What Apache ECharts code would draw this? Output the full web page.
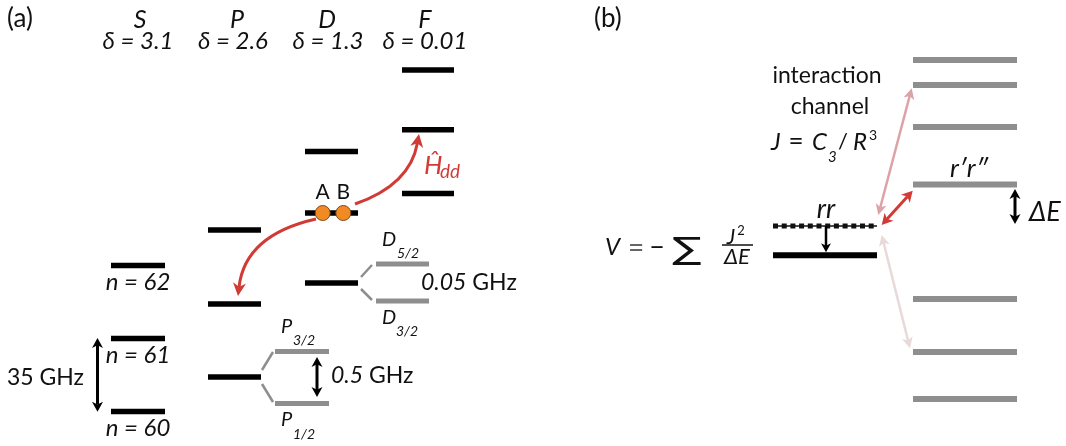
<!DOCTYPE html>
<html><head><meta charset="utf-8">
<script src="https://cdn.jsdelivr.net/npm/echarts@6/dist/echarts.min.js"></script>
<style>html,body{margin:0;padding:0;background:#fff}#c{width:1066px;height:446px}</style>
</head><body><div id="c"></div>
<script>
// ================= DATA (energies on a hidden vertical energy axis, 0..446) =================
const seriesNames    = ['S', 'P', 'D', 'F'];
const quantumDefects = ['3.1', '2.6', '1.3', '0.01'];
const sLevels = [34.5, 107.5, 180.5];          // n = 60, 61, 62
const sLevelLabels = ['n = 60', 'n = 61', 'n = 62'];
const pLevels = [69, 142, 216];
const dLevels = [163, 233, 294.5];
const fLevels = [252.5, 316.3, 376];
const pFine = [42.5, 94.5];                      // P1/2, P3/2
const pFineLabels = ['1/2', '3/2'];
const dFine = [145, 182];                        // D3/2, D5/2
const dFineLabels = ['3/2', '5/2'];
const splittings = ['35', '0.5', '0.05'];        // GHz
const atoms = ['A', 'B'];
const pairLevels = [190.7, 220];                 // rr (bare), rr (shifted, dashed)
const ladderLevels = [47, 94, 147, 261.5, 319, 361, 386];  // r'r'' pair states

// ================= LAYOUT / STYLE =================
const FONT = 'Lato, "Open Sans", sans-serif';
const INK = '#111111', GRAY = '#8e8e8e', RED = '#d13b36';
const colX = { S: [111, 165], P: [208, 261], D: [305, 358], F: [402, 454] };
const pFineX = [275, 329], dFineX = [376, 429];
const pairX = [773, 877], ladderX = [913, 1017];

const segs = (levels, xr) => levels.map(e => [xr[0], e, xr[1], e]);

function segSeries(data, style, z) {
  return {
    type: 'custom', coordinateSystem: 'cartesian2d', silent: true, animation: false, z: z,
    data: data, encode: { x: [0, 2], y: [1, 3] },
    renderItem(params, api) {
      const a = api.coord([api.value(0), api.value(1)]);
      const b = api.coord([api.value(2), api.value(3)]);
      return { type: 'line', shape: { x1: a[0], y1: a[1], x2: b[0], y2: b[1] },
               style: Object.assign({ fill: null, lineCap: 'butt' }, style) };
    }
  };
}

function head(tip, dir, L, W, color) {
  const len = Math.hypot(dir[0], dir[1]);
  const u = [dir[0] / len, dir[1] / len], n = [-u[1], u[0]];
  return { type: 'polygon', shape: { points: [
    tip,
    [tip[0] - L * u[0] + W * n[0], tip[1] - L * u[1] + W * n[1]],
    [tip[0] - 0.72 * L * u[0], tip[1] - 0.72 * L * u[1]],
    [tip[0] - L * u[0] - W * n[0], tip[1] - L * u[1] - W * n[1]]
  ] }, style: { fill: color, stroke: null } };
}

// arrows: straight (from,to) or curved (from,ctrl,to); heads at 'end' or 'both'
const arrows = [
  { p: [[colX.S[0] - 13.5, sLevels[1] + 0.5], [colX.S[0] - 13.5, sLevels[0] - 0.2]], heads: 'both', color: '#000', w: 3, L: 10, W: 5.5 },
  { p: [[317, pFine[1] - 5.5], [317, pFine[0] + 6.5]], heads: 'both', color: '#000', w: 3, L: 10, W: 5.5 },
  { p: [[355, 242], [410, 261], [419, 312]], heads: 'end', color: RED, w: 3, L: 13, W: 6.5 },
  { p: [[316, 227], [245, 211], [238, 150]], heads: 'end', color: RED, w: 3, L: 13, W: 6.5 },
  { p: [[878.3, 231], [911.7, 357.7]], heads: 'both', color: '#dca2a7', w: 2.5, L: 11, W: 5.5 },
  { p: [[881.7, 221], [912.7, 255.3]], heads: 'both', color: RED, w: 3, L: 11, W: 6 },
  { p: [[881.7, 211], [910, 97.7]], heads: 'both', color: '#e8d9da', w: 2.5, L: 11, W: 5.5 },
  { p: [[826, pairLevels[1]], [826, pairLevels[0] + 3]], heads: 'end', color: '#000', w: 2.5, L: 9, W: 5 },
  { p: [[1015, ladderLevels[3] - 4.5], [1015, 222]], heads: 'both', color: '#000', w: 3, L: 10, W: 5.5 }
];

function arrowSeries(z) {
  return {
    type: 'custom', coordinateSystem: 'cartesian2d', silent: true, animation: false, z: z,
    data: arrows.map(a => a.p[0]),
    renderItem(params, api) {
      const a = arrows[params.dataIndex];
      const P = a.p.map(q => api.coord(q));
      const children = [];
      const start = P[0], end = P[P.length - 1];
      const dEnd = P.length === 3 ? [end[0] - P[1][0], end[1] - P[1][1]] : [end[0] - start[0], end[1] - start[1]];
      const dStart = P.length === 3 ? [start[0] - P[1][0], start[1] - P[1][1]] : [start[0] - end[0], start[1] - end[1]];
      const shrink = (pt, d, k) => { const l = Math.hypot(d[0], d[1]); return [pt[0] - k * d[0] / l, pt[1] - k * d[1] / l]; };
      const e2 = shrink(end, dEnd, a.L * 0.7);
      const s2 = a.heads === 'both' ? shrink(start, dStart, a.L * 0.7) : start;
      if (P.length === 3) {
        children.push({ type: 'bezierCurve', shape: { x1: s2[0], y1: s2[1], cpx1: P[1][0], cpy1: P[1][1], x2: e2[0], y2: e2[1] },
                        style: { fill: null, stroke: a.color, lineWidth: a.w } });
      } else {
        children.push({ type: 'line', shape: { x1: s2[0], y1: s2[1], x2: e2[0], y2: e2[1] },
                        style: { fill: null, stroke: a.color, lineWidth: a.w } });
      }
      children.push(head(end, dEnd, a.L, a.W, a.color));
      if (a.heads === 'both') children.push(head(start, dStart, a.L, a.W, a.color));
      return { type: 'group', children };
    }
  };
}

// ----- text annotations -----
const it = (s, f) => 'italic ' + s + 'px ' + (f || FONT);
const up = (s, f) => s + 'px ' + (f || FONT);
const texts = [];
const T = (x, e, text, font, align, extra) => texts.push(Object.assign({ x, e, text, font, align: align || 'center' }, extra || {}));

T(7, 427, '(a)', up(26), 'left');
T(594, 427, '(b)', up(26), 'left');
const headX = [140, 237, 327, 425], deltaX = [138, 233, 328, 425];
seriesNames.forEach((s, i) => T(headX[i], 426, s, it(25)));
quantumDefects.forEach((d, i) => T(deltaX[i], 405, 'δ = ' + d, it(24)));
sLevels.forEach((e, i) => T(138, e - 17, sLevelLabels[i], it(24)));
T(84, 68, splittings[0] + ' GHz', up(23), 'right');
T(331, 70, '{i|' + splittings[1] + '} GHz', up(23), 'left', { rich: { i: { font: it(23), fill: INK } } });
T(421, 163, '{i|' + splittings[2] + '} GHz', up(23), 'left', { rich: { i: { font: it(23), fill: INK } } });
// fine structure labels
T(281, pFine[1] + 24.5, 'P', it(20), 'left'); T(293, pFine[1] + 11, pFineLabels[1], it(14), 'left');
T(281, pFine[0] - 16.5, 'P', it(20), 'left'); T(293, pFine[0] - 31, pFineLabels[0], it(14), 'left');
T(382, dFine[1] + 24, 'D', it(20), 'left'); T(397, dFine[1] + 10.5, dFineLabels[1], it(14), 'left');
T(382, dFine[0] - 17, 'D', it(20), 'left'); T(396, dFine[0] - 30.5, dFineLabels[0], it(14), 'left');
// atoms
const atomX = [322.7, 343.3];
atoms.forEach((a, i) => T(atomX[i], dLevels[1] + 21, a, up(21)));
// H_dd
T(424, 280, 'Ĥ', it(26), 'left', { color: RED });
T(440, 274, 'dd', it(19), 'left', { color: RED });
// panel b
T(827, 370, 'interaction', up(23));
T(830, 339, 'channel', up(23));
T(771, 304, 'J', it(24), 'left');
T(796, 304, '=', up(26), 'center');
T(812, 304, 'C', it(24), 'left');
T(828, 289, '3', it(15), 'left');
T(838, 304, '/', up(22), 'left');
T(853, 304, 'R', it(24), 'left');
T(869, 311, '3', up(14), 'left');
T(605, 198.5, 'V', it(24), 'left');
T(636, 198.5, '=', up(28), 'center', { color: '#666' });
T(657, 198.5, '−', up(26), 'center');
T(687, 195, '∑', up(31, '"DejaVu Sans"'), 'center', { scaleX: 1.4 });
T(731, 209, 'J', it(21), 'center');
T(741, 215, '2', up(13), 'center');
T(737, 189, 'ΔE', it(22));
T(826, 237, 'rr', it(27));
T(969, 277, 'r′r″', it(26));
T(1029, 234, 'ΔE', it(27), 'left');

function textSeries(z) {
  return {
    type: 'custom', coordinateSystem: 'cartesian2d', silent: true, animation: false, z: z,
    data: texts.map(t => [t.x, t.e]),
    renderItem(params, api) {
      const t = texts[params.dataIndex];
      const p = api.coord([t.x, t.e]);
      return { type: 'text', x: p[0], y: p[1], scaleX: t.scaleX || 1, originX: 0, originY: 0,
               style: { text: t.text, font: t.font, fill: t.color || INK, align: t.align,
                        verticalAlign: 'middle', rich: t.rich } };
    }
  };
}

const option = {
  backgroundColor: '#ffffff',
  animation: false,
  grid: { left: 0, right: 0, top: 0, bottom: 0 },
  xAxis: { type: 'value', min: 0, max: 1066, show: false },
  yAxis: { type: 'value', min: 0, max: 446, show: false },
  series: [
    segSeries([].concat(segs(pFine, pFineX), segs(dFine, dFineX)), { stroke: GRAY, lineWidth: 5 }, 2),
    segSeries(segs(ladderLevels, ladderX), { stroke: GRAY, lineWidth: 6 }, 2),
    segSeries([[262, 76, 273, 94], [262, 62, 273, 44], [361, 169, 372, 181], [361, 157, 372, 146]],
              { stroke: GRAY, lineWidth: 2.5 }, 2),
    segSeries([].concat(segs(sLevels, colX.S), segs(pLevels, colX.P), segs(dLevels, colX.D), segs(fLevels, colX.F)),
              { stroke: '#000', lineWidth: 5.5 }, 3),
    segSeries(segs([pairLevels[0]], pairX), { stroke: '#000', lineWidth: 6 }, 3),
    segSeries(segs([pairLevels[1]], pairX), { stroke: '#111', lineWidth: 1.5 }, 3),
    segSeries(segs([pairLevels[1]], pairX), { stroke: '#111', lineWidth: 5, lineDash: [5, 3.7] }, 3),
    segSeries([[722, 201, 753, 201]], { stroke: INK, lineWidth: 1.5 }, 3),
    arrowSeries(4),
    {
      type: 'scatter', z: 5, silent: true, animation: false, symbol: 'circle', symbolSize: 15,
      itemStyle: { color: '#f28a24', borderColor: '#7d4c1c', borderWidth: 1, opacity: 1 },
      data: atomX.map(x => [x, dLevels[1]])
    },
    textSeries(6)
  ]
};
const chart = echarts.init(document.getElementById('c'), null, { renderer: 'canvas' });
chart.setOption(option);
</script></body></html>
